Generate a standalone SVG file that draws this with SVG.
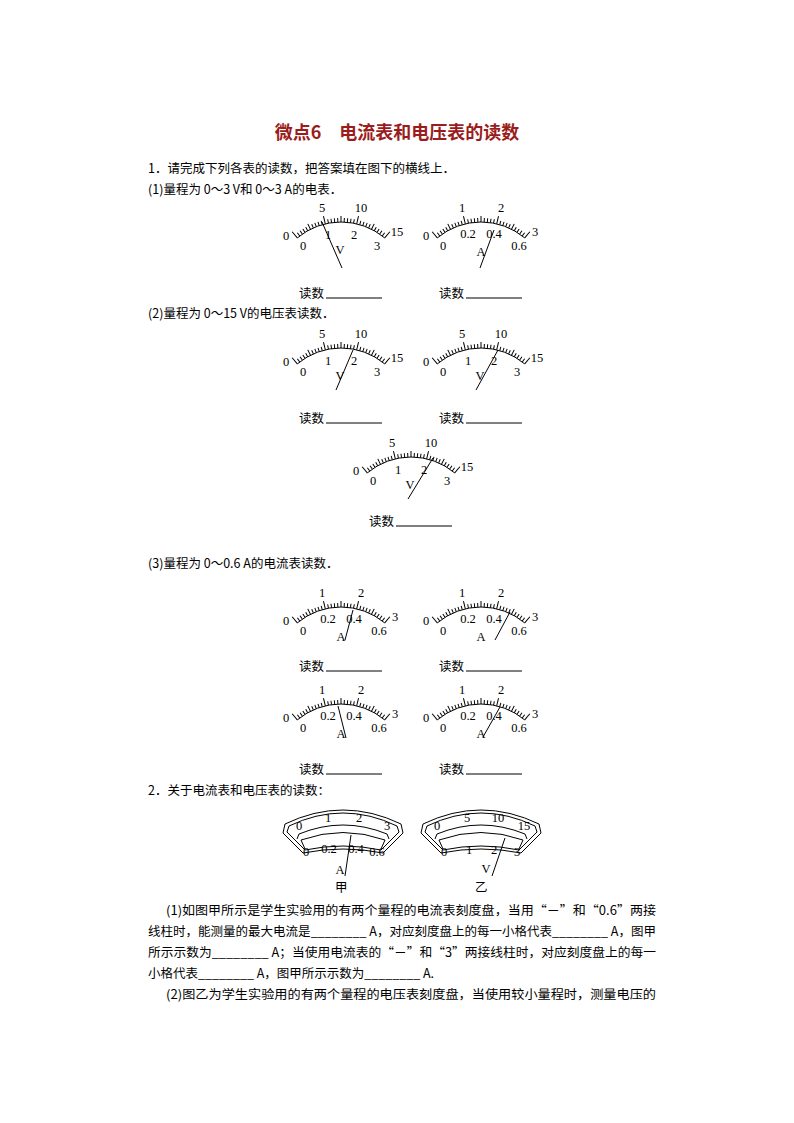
<svg xmlns="http://www.w3.org/2000/svg" xmlns:xlink="http://www.w3.org/1999/xlink" width="794" height="1123" viewBox="0 0 794 1123">
<style>
.t{font-family:"Noto Sans CJK SC","Liberation Sans",sans-serif;font-size:12.5px;fill:#000}
.n{font-family:"Liberation Serif",serif;font-size:12.5px;fill:#000;text-anchor:middle}
.l{stroke:#000;stroke-width:1;fill:none}
</style>
<defs>
<line id="m1" x1="0" y1="-68" x2="0" y2="-72" class="l"/>
<line id="m5" x1="0" y1="-68" x2="0" y2="-74" class="l"/>
<line id="m10" x1="0" y1="-68" x2="0" y2="-76" class="l"/>
<g id="scale">
<path d="M-43.7,-52.1 A68,68 0 0 1 43.7,-52.1" class="l"/>
<use xlink:href="#m10" transform="rotate(-40)"/><use xlink:href="#m1" transform="rotate(-37.33)"/><use xlink:href="#m1" transform="rotate(-34.67)"/><use xlink:href="#m1" transform="rotate(-32)"/><use xlink:href="#m1" transform="rotate(-29.33)"/><use xlink:href="#m5" transform="rotate(-26.67)"/><use xlink:href="#m1" transform="rotate(-24)"/><use xlink:href="#m1" transform="rotate(-21.33)"/><use xlink:href="#m1" transform="rotate(-18.67)"/><use xlink:href="#m1" transform="rotate(-16)"/><use xlink:href="#m10" transform="rotate(-13.33)"/><use xlink:href="#m1" transform="rotate(-10.67)"/><use xlink:href="#m1" transform="rotate(-8)"/><use xlink:href="#m1" transform="rotate(-5.33)"/><use xlink:href="#m1" transform="rotate(-2.67)"/><use xlink:href="#m5" transform="rotate(0)"/><use xlink:href="#m1" transform="rotate(2.67)"/><use xlink:href="#m1" transform="rotate(5.33)"/><use xlink:href="#m1" transform="rotate(8)"/><use xlink:href="#m1" transform="rotate(10.67)"/><use xlink:href="#m10" transform="rotate(13.33)"/><use xlink:href="#m1" transform="rotate(16)"/><use xlink:href="#m1" transform="rotate(18.67)"/><use xlink:href="#m1" transform="rotate(21.33)"/><use xlink:href="#m1" transform="rotate(24)"/><use xlink:href="#m5" transform="rotate(26.67)"/><use xlink:href="#m1" transform="rotate(29.33)"/><use xlink:href="#m1" transform="rotate(32)"/><use xlink:href="#m1" transform="rotate(34.67)"/><use xlink:href="#m1" transform="rotate(37.33)"/><use xlink:href="#m10" transform="rotate(40)"/>
</g>
<g id="meterV">
<use xlink:href="#scale"/>
<text class="n" x="-55" y="-50">0</text><text class="n" x="-19" y="-78">5</text><text class="n" x="20" y="-78">10</text><text class="n" x="56" y="-54">15</text>
<text class="n" x="-38" y="-40">0</text><text class="n" x="-13" y="-51">1</text><text class="n" x="13" y="-51">2</text><text class="n" x="36" y="-40">3</text>
<text class="n" x="-1" y="-36">V</text>
</g>
<g id="meterA">
<use xlink:href="#scale"/>
<text class="n" x="-55" y="-50">0</text><text class="n" x="-19" y="-78">1</text><text class="n" x="20" y="-78">2</text><text class="n" x="54" y="-54">3</text>
<text class="n" x="-38" y="-40">0</text><text class="n" x="-13" y="-52">0.2</text><text class="n" x="13" y="-52">0.4</text><text class="n" x="38" y="-40">0.6</text>
<text class="n" x="0" y="-34">A</text>
</g>
<g id="dialbox">
<path d="M-60,25 L-58,16 Q0,-12 58,16 L60,25 L40,45 Q0,37 -40,45 Z" class="l"/>
<path d="M-56,24 L-54,18 Q0,-8 54,18 L56,24 L38,42 Q0,34 -38,42 Z" class="l"/>
<path d="M-46,31 L-44,26 Q0,8 44,26 L46,31" class="l"/>
<path d="M-42,32 Q0,17 42,32" class="l"/>
<path d="M-42,32 L-38,41 M42,32 L38,41" class="l"/>
</g>
</defs>

<g id="title"><text x="397" y="139" text-anchor="middle" style="font-family:'Noto Sans CJK SC',sans-serif;font-size:18px;font-weight:bold;fill:#9b1c1c">微点6　电流表和电压表的读数</text></g>

<g id="texts">
<text class="t" x="148" y="173">1．请完成下列各表的读数，把答案填在图下的横线上．</text>
<text class="t" x="148" y="194">(1)量程为 0～3 V和 0～3 A的电表．</text>
<text class="t" x="148" y="318">(2)量程为 0～15 V的电压表读数．</text>
<text class="t" x="148" y="568">(3)量程为 0～0.6 A的电流表读数．</text>
<text class="t" x="148" y="795">2．关于电流表和电压表的读数：</text>
<text class="t" x="166" y="915" textLength="490" lengthAdjust="spacingAndGlyphs">(1)如图甲所示是学生实验用的有两个量程的电流表刻度盘，当用“－”和“0.6”两接</text>
<text class="t" x="148" y="936" textLength="508" lengthAdjust="spacingAndGlyphs">线柱时，能测量的最大电流是________ A，对应刻度盘上的每一小格代表________ A，图甲</text>
<text class="t" x="148" y="957" textLength="508" lengthAdjust="spacingAndGlyphs">所示示数为________ A；当使用电流表的“－”和“3”两接线柱时，对应刻度盘上的每一</text>
<text class="t" x="148" y="978">小格代表________ A，图甲所示示数为________ A.</text>
<text class="t" x="166" y="999" textLength="490" lengthAdjust="spacingAndGlyphs">(2)图乙为学生实验用的有两个量程的电压表刻度盘，当使用较小量程时，测量电压的</text>
</g>

<g id="m_r1a" transform="translate(341,290)"><use xlink:href="#meterV"/></g>
<g id="m_r1b" transform="translate(481,290)"><use xlink:href="#meterA"/></g>
<g id="m_r2a" transform="translate(341,416)"><use xlink:href="#meterV"/></g>
<g id="m_r2b" transform="translate(481,416)"><use xlink:href="#meterV"/></g>
<g id="m_r3" transform="translate(411,525)"><use xlink:href="#meterV"/></g>
<g id="m_r4a" transform="translate(341,675)"><use xlink:href="#meterA"/></g>
<g id="m_r4b" transform="translate(481,675)"><use xlink:href="#meterA"/></g>
<g id="m_r5a" transform="translate(341,772)"><use xlink:href="#meterA"/></g>
<g id="m_r5b" transform="translate(481,772)"><use xlink:href="#meterA"/></g>

<g id="readings">
<text class="t" x="299" y="298">读数</text><line x1="326" y1="298" x2="382" y2="298" class="l"/>
<text class="t" x="439" y="298">读数</text><line x1="466" y1="298" x2="522" y2="298" class="l"/>
<text class="t" x="299" y="423">读数</text><line x1="326" y1="423" x2="382" y2="423" class="l"/>
<text class="t" x="439" y="423">读数</text><line x1="466" y1="423" x2="522" y2="423" class="l"/>
<text class="t" x="369" y="526">读数</text><line x1="396" y1="526" x2="452" y2="526" class="l"/>
<text class="t" x="299" y="671">读数</text><line x1="326" y1="671" x2="382" y2="671" class="l"/>
<text class="t" x="439" y="671">读数</text><line x1="466" y1="671" x2="522" y2="671" class="l"/>
<text class="t" x="299" y="774">读数</text><line x1="326" y1="774" x2="382" y2="774" class="l"/>
<text class="t" x="439" y="774">读数</text><line x1="466" y1="774" x2="522" y2="774" class="l"/>
</g>

<g id="dial_jia" transform="translate(343,808)">
<use xlink:href="#dialbox"/>
<text class="n" x="-44" y="22">0</text><text class="n" x="-15" y="14">1</text><text class="n" x="16" y="14">2</text><text class="n" x="44" y="22">3</text>
<text class="n" x="-37" y="48">0</text><text class="n" x="-14" y="45">0.2</text><text class="n" x="13" y="45">0.4</text><text class="n" x="34" y="48">0.6</text>
<text class="n" x="-3" y="66">A</text>
<text class="t" x="335" y="892" transform="translate(-343,-808)">甲</text>
</g>
<g id="dial_yi" transform="translate(481,808)">
<use xlink:href="#dialbox"/>
<text class="n" x="-44" y="22">0</text><text class="n" x="-14" y="14">5</text><text class="n" x="17" y="14">10</text><text class="n" x="43" y="22">15</text>
<text class="n" x="-37" y="48">0</text><text class="n" x="-12" y="46">1</text><text class="n" x="13" y="46">2</text><text class="n" x="36" y="48">3</text>
<text class="n" x="5" y="65">V</text>
<text class="t" x="475" y="892" transform="translate(-481,-808)">乙</text>
</g>

<g id="needles">
<line x1="322" y1="222" x2="342" y2="268" class="l"/>
<line x1="494" y1="230" x2="480" y2="268" class="l"/>
<line x1="353" y1="350" x2="336" y2="390" class="l"/>
<line x1="498" y1="350" x2="476" y2="390" class="l"/>
<line x1="433" y1="458" x2="408" y2="499" class="l"/>
<line x1="353" y1="610" x2="345" y2="640" class="l"/>
<line x1="510" y1="612" x2="495" y2="640" class="l"/>
<line x1="338" y1="706" x2="346" y2="738" class="l"/>
<line x1="500" y1="707" x2="483" y2="737" class="l"/>
<line x1="351" y1="835" x2="345" y2="876" class="l"/>
<line x1="505" y1="838" x2="492" y2="876" class="l"/>
</g>
</svg>
